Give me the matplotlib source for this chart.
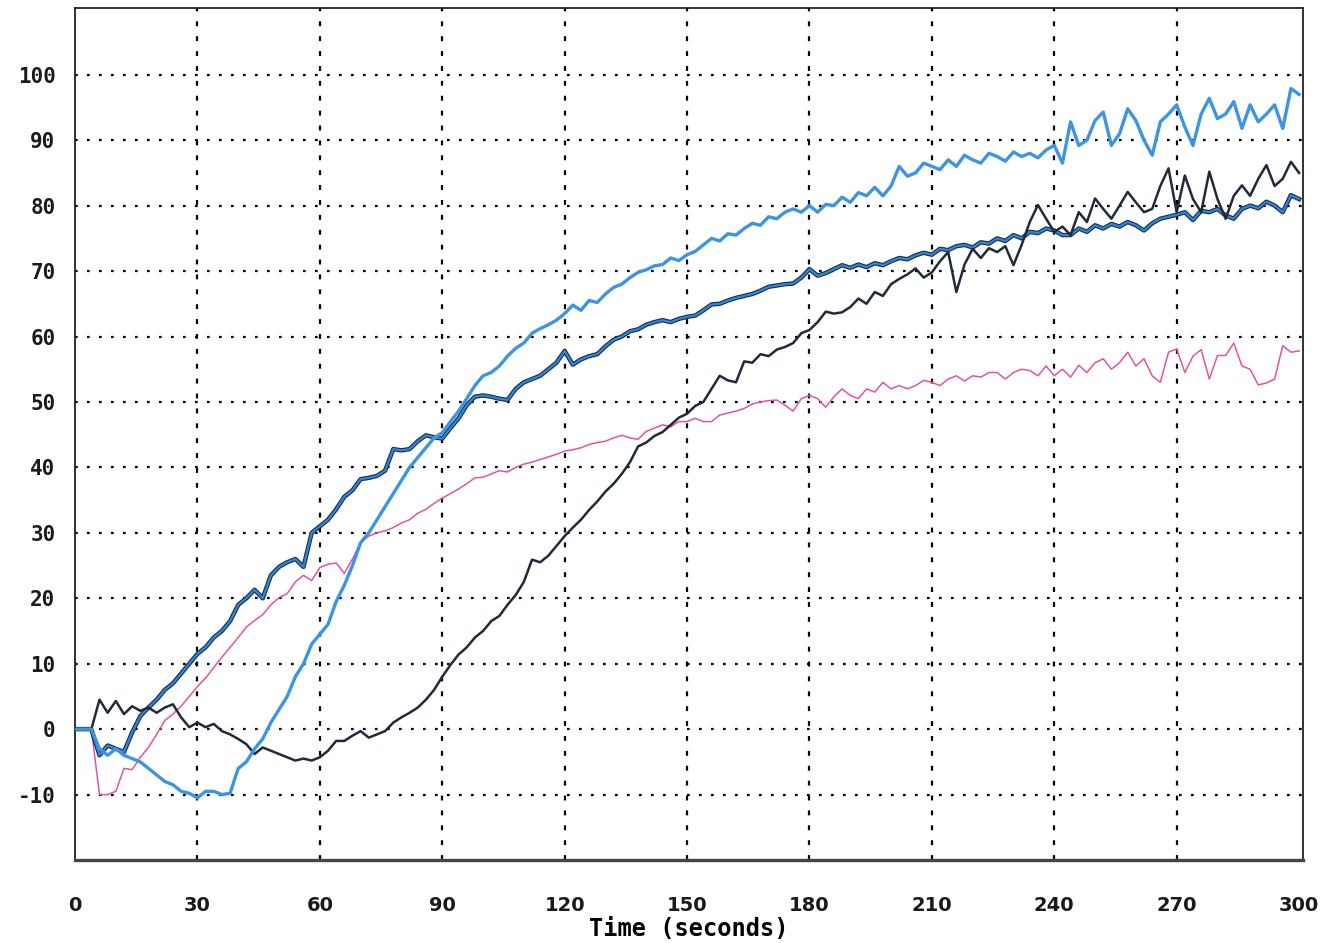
import numpy as np
import matplotlib
matplotlib.use('Agg')
import matplotlib.pyplot as plt

# time axis (seconds), one reading every 2 s
t = np.arange(0, 301, 2)

# upper light blue trace
upper_blue = [0, 0, 0, -3, -4, -3, -4, -4.5, -5, -6, -7, -8, -8.5, -9.5, -9.8, -10.5, -9.5, -9.5, -10, -9.8,
              -6, -5, -3, -1.5, 1, 3, 5, 8, 10, 13, 14.5, 16, 19.5, 22, 25, 28.5, 30, 32, 34, 36,
              38, 40, 41.5, 43, 44.5, 45.3, 47, 48.6, 50.5, 52.5, 54, 54.5, 55.5, 57, 58.2, 59, 60.5, 61.2, 61.8, 62.5,
              63.5, 64.8, 64, 65.5, 65.2, 66.5, 67.5, 68, 69, 69.8, 70.2, 70.8, 71, 72, 71.6, 72.5, 73, 74, 75, 74.6,
              75.7, 75.5, 76.5, 77.3, 77, 78.3, 78, 79, 79.5, 79, 80, 79, 80.2, 80, 81.3, 80.5, 82, 81.5, 82.8, 81.5,
              83, 86, 84.5, 85, 86.5, 86, 85.5, 87, 86, 87.7, 87, 86.5, 88, 87.5, 86.8, 88.2, 87.5, 88, 87.3, 88.5,
              89.2, 86.5, 92.8, 89.2, 90, 93, 94.3, 89.2, 91, 94.8, 93, 90, 87.7, 92.8, 94, 95.4, 92, 89.2, 94, 96.4,
              93.3, 94, 95.9, 91.8, 95.4, 92.8, 94, 95.4, 91.8, 97.9, 97]

# lower blue trace (dark edged)
lower_blue = [0, 0, 0, -4, -2.5, -3, -3.5, -0.5, 2, 3.3, 4.5, 6, 7, 8.5, 10, 11.5, 12.5, 14, 15, 16.5,
              19, 20, 21.3, 20, 23.5, 24.8, 25.5, 26, 24.8, 30, 31, 32, 33.6, 35.5, 36.5, 38.2, 38.4, 38.7, 39.5, 42.8,
              42.6, 42.8, 44, 44.9, 44.6, 44.4, 46, 47.5, 49.5, 50.8, 51, 50.8, 50.5, 50.3, 52, 53, 53.5, 54, 55, 56,
              57.8, 55.7, 56.5, 57, 57.3, 58.5, 59.5, 60, 60.8, 61.1, 61.8, 62.2, 62.5, 62.2, 62.7, 63, 63.2, 64, 64.9, 65,
              65.5, 65.9, 66.2, 66.5, 67, 67.6, 67.8, 68, 68.1, 69, 70.3, 69.3, 69.7, 70.3, 70.9, 70.5, 71, 70.6, 71.2, 70.9,
              71.5, 72, 71.8, 72.4, 72.8, 72.5, 73.4, 73.2, 73.8, 74, 73.6, 74.4, 74.2, 75, 74.6, 75.5, 75, 76, 75.8, 76.5,
              76.2, 75.5, 75.5, 76.5, 76, 77, 76.5, 77.2, 76.8, 77.5, 77, 76.2, 77.3, 78, 78.3, 78.6, 79, 77.8, 79.2, 79,
              79.5, 78.5, 78, 79.5, 80, 79.6, 80.6, 80, 79, 81.6, 81]

# dark navy trace
dark = [0, 0, 0, 4.5, 2.5, 4.3, 2.3, 3.5, 2.8, 3.3, 2.5, 3.3, 3.8, 1.8, 0.3, 1, 0.3, 0.8, -0.3, -0.8,
        -1.5, -2.3, -3.8, -2.8, -3.3, -3.8, -4.3, -4.8, -4.5, -4.8, -4.3, -3.3, -1.8, -1.8, -1, -0.3, -1.3, -0.8, -0.3, 1,
        1.8, 2.5, 3.3, 4.5, 6, 8, 9.8, 11.4, 12.5, 14, 15, 16.5, 17.3, 19, 20.5, 22.5, 25.9, 25.5, 26.5, 28,
        29.5, 30.8, 32, 33.5, 34.8, 36.3, 37.5, 39, 40.8, 43.2, 43.8, 44.8, 45.4, 46.5, 47.6, 48.2, 49.4, 50, 52, 54,
        53.3, 53, 56.2, 56, 57.3, 57, 58, 58.4, 59, 60.5, 61, 62.2, 63.8, 63.5, 63.7, 64.5, 65.8, 65, 66.8, 66.2,
        68, 68.8, 69.5, 70.4, 69, 69.8, 71.5, 72.9, 66.8, 71, 73.4, 72, 73.5, 72.9, 73.8, 70.9, 74, 77.5, 80.1, 78,
        76, 76.8, 75.5, 79, 77.5, 81.1, 79.5, 78, 80, 82.1, 80.5, 79, 79.5, 83, 85.7, 79, 84.6, 81, 79, 85.2,
        81, 78, 81.5, 83.1, 81.5, 84.1, 86.2, 83, 84.1, 86.7, 85]

# magenta trace
magenta = [0, 0, 0, -10, -10, -9.5, -6, -6.2, -4.3, -2.8, -0.8, 1.3, 2.3, 3.5, 5, 6.5, 7.8, 9.4, 11, 12.5,
           14, 15.6, 16.6, 17.5, 19, 20.1, 20.7, 22.5, 23.5, 22.7, 24.7, 25.2, 25.4, 23.8, 26, 28.5, 29.5, 30, 30.3, 30.8,
           31.5, 32, 33, 33.6, 34.5, 35.3, 36, 36.7, 37.5, 38.4, 38.5, 39, 39.5, 39.3, 40, 40.5, 40.8, 41.2, 41.6, 42,
           42.5, 42.7, 43, 43.5, 43.8, 44, 44.5, 44.9, 44.5, 44.3, 45.5, 46, 46.5, 46.2, 47, 47, 47.5, 47, 47, 48,
           48.3, 48.6, 49, 49.7, 50, 50.2, 50.3, 49.5, 48.6, 50.5, 51, 50.5, 49.2, 50.8, 52, 51, 50.5, 52, 51.5, 53,
           52, 52.5, 52, 52.5, 53.3, 53, 52.5, 53.5, 54, 53.2, 54, 53.8, 54.5, 54.5, 53.5, 54.5, 55, 54.8, 54, 55.5,
           54, 55, 53.8, 55.6, 54.5, 56, 56.6, 55, 56, 57.6, 55.5, 56.6, 54, 53, 57.6, 58.1, 54.5, 57, 58, 53.5,
           57.1, 57.1, 59, 55.5, 55, 52.6, 52.9, 53.5, 58.6, 57.6, 57.8]

x_ticks = [0, 30, 60, 90, 120, 150, 180, 210, 240, 270, 300]
y_ticks = [-10, 0, 10, 20, 30, 40, 50, 60, 70, 80, 90, 100]

fig = plt.figure(figsize=(13.23, 9.43), dpi=100)
ax = fig.add_axes([0.0567, 0.088, 0.9283, 0.9035])

# printer style grid: dotted rows, dashed columns
for y in y_ticks:
    ax.axhline(y, color='black', lw=1.6, ls=(0, (1.2, 4.2)), zorder=1)
for x in x_ticks[1:-1]:
    ax.axvline(x, color='black', lw=1.6, ls=(0, (2.2, 4.5)), zorder=1)

ax.plot(t, magenta, color='#e2549f', lw=1.1, zorder=2)
ax.plot(t, lower_blue, color='#1d2c46', lw=3.2, zorder=3)
ax.plot(t, lower_blue, color='#2f86d8', lw=1.6, zorder=3)
ax.plot(t, dark, color='#1f2a3b', lw=1.8, zorder=4)
ax.plot(t, upper_blue, color='#3c94e2', lw=2.4, zorder=5)

ax.set_xlim(0, 301)
ax.set_ylim(-20, 110.2)

ax.set_xticks(x_ticks)
ax.set_xticklabels([str(v) for v in x_ticks], family='DejaVu Sans', fontweight='bold', fontsize=14, color='#1a1a1a')
ax.set_yticks(y_ticks)
ax.set_yticklabels([str(v) for v in y_ticks], family='DejaVu Sans Mono', fontweight='bold', fontsize=15, color='#1a1a1a')
ax.tick_params(axis='x', length=0, pad=26)
ax.tick_params(axis='y', length=0, pad=14)

ax.set_xlabel('Time (seconds)', family='DejaVu Sans Mono', fontweight='bold', fontsize=17, labelpad=1)

for side in ['left', 'top', 'right']:
    ax.spines[side].set_linewidth(1.3)
    ax.spines[side].set_color('#222222')
ax.spines['bottom'].set_linewidth(2.4)
ax.spines['bottom'].set_color('#444444')

fig.savefig('out.png', dpi=100)
